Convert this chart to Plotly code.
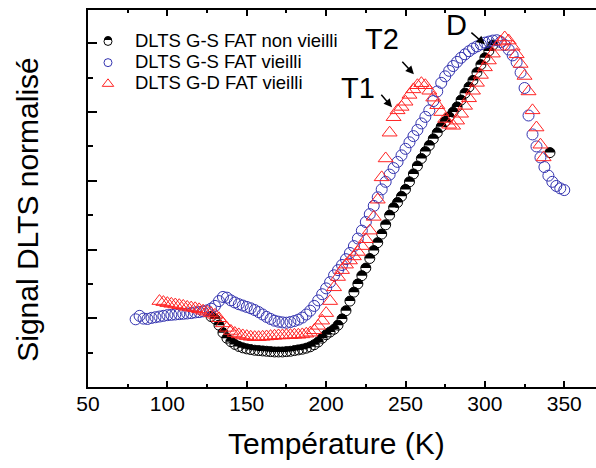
import math
import plotly.graph_objects as go

# ---- data ----
temp_ns = [127.5, 130, 132.5, 135, 137.5, 140, 142.5, 145, 147.5, 150, 152.5, 155, 157.5, 160, 162.5,
           165, 167.5, 170, 172.5, 175, 177.5, 180, 182.5, 185, 187.5, 190, 192.5, 195, 197.5,
           200, 202.5, 205, 207.5, 210, 212.5, 215, 217.5, 220, 222.5, 225, 227.5, 230, 232.5,
           235, 237.5, 240, 242.5, 245, 247.5, 250, 252.5, 255, 257.5, 260, 262.5, 265, 267.5,
           270, 272.5, 275, 277.5, 280, 282.5, 285, 287.5, 290, 292.5, 295, 297.5, 300, 302.5,
           305, 341]
sig_ns = [0.205, 0.198, 0.180, 0.158, 0.142, 0.132, 0.124, 0.118, 0.114, 0.111, 0.109, 0.107, 0.106, 0.105, 0.104,
          0.103, 0.102, 0.102, 0.102, 0.103, 0.104, 0.106, 0.108, 0.110, 0.113, 0.117, 0.123, 0.131, 0.142,
          0.152, 0.160, 0.168, 0.180, 0.198, 0.222, 0.250, 0.276, 0.300, 0.324, 0.346, 0.374, 0.397, 0.420,
          0.445, 0.472, 0.500, 0.522, 0.537, 0.555, 0.575, 0.597, 0.620, 0.643, 0.665, 0.685, 0.703, 0.722,
          0.740, 0.757, 0.772, 0.786, 0.800, 0.815, 0.835, 0.855, 0.873, 0.892, 0.915, 0.938, 0.958, 0.978,
          0.995, 0.682]

temp_gs = [80, 82.5, 85, 87.5, 90, 92.5, 95, 97.5, 100, 102.5, 105, 107.5, 110, 112.5, 115, 117.5,
           120, 122.5, 125, 127.5, 130, 132.5, 135, 137.5, 140, 142.5, 145, 147.5, 150, 152.5, 155,
           157.5, 160, 162.5, 165, 167.5, 170, 172.5, 175, 177.5, 180, 182.5, 185, 187.5, 190, 192.5,
           195, 197.5, 200, 202.5, 205, 207.5, 210, 212.5, 215, 217.5, 220, 222.5, 225, 227.5, 230,
           232.5, 235, 237.5, 240, 242.5, 245, 247.5, 250, 252.5, 255, 257.5, 260, 262.5, 265, 267.5,
           270, 272.5, 275, 277.5, 280, 282.5, 285, 287.5, 290, 292.5, 295, 297.5, 300, 302.5, 305,
           307.5, 310, 312.5, 315, 317.5, 320, 322.5, 325, 327.5, 330, 332.5, 335, 337.5, 340, 342.5,
           345, 347.5, 350]
sig_gs = [0.197, 0.207, 0.199, 0.198, 0.201, 0.203, 0.205, 0.207, 0.209, 0.210, 0.211, 0.212, 0.213, 0.214, 0.215, 0.217,
          0.218, 0.220, 0.223, 0.228, 0.236, 0.250, 0.262, 0.260, 0.252, 0.246, 0.241, 0.237, 0.233, 0.229, 0.224,
          0.218, 0.211, 0.204, 0.198, 0.193, 0.190, 0.188, 0.187, 0.189, 0.192, 0.196, 0.202, 0.211, 0.222, 0.236,
          0.252, 0.270, 0.287, 0.305, 0.325, 0.340, 0.355, 0.372, 0.390, 0.410, 0.432, 0.455, 0.480, 0.503, 0.527,
          0.552, 0.575, 0.597, 0.618, 0.637, 0.655, 0.674, 0.693, 0.712, 0.730, 0.748, 0.767, 0.786, 0.805, 0.832,
          0.860, 0.885, 0.904, 0.920, 0.934, 0.946, 0.958, 0.968, 0.977, 0.985, 0.991, 0.997, 1.002, 1.005, 1.008,
          1.009, 1.004, 0.995, 0.982, 0.965, 0.945, 0.915, 0.870, 0.790, 0.735, 0.700, 0.668, 0.640, 0.615, 0.597,
          0.585, 0.578, 0.573]

temp_gd = [95, 97.5, 100, 102.5, 105, 107.5, 110, 112.5, 115, 117.5, 120, 122.5, 125, 127.5, 130,
           132.5, 135, 137.5, 140, 142.5, 145, 147.5, 150, 152.5, 155, 157.5, 160, 162.5, 165, 167.5,
           170, 172.5, 175, 177.5, 180, 182.5, 185, 187.5, 190, 192.5, 195, 197.5, 200, 202.5, 205,
           207.5, 210, 212.5, 215, 217.5, 220, 222.5, 225, 227.5, 230, 232.5, 235, 237.5, 240, 242.5,
           245, 247.5, 250, 252.5, 255, 257.5, 260, 262.5, 265, 267.5, 270, 272.5, 275, 277.5, 280,
           282.5, 285, 287.5, 290, 292.5, 295, 297.5, 300, 302.5, 305, 307.5, 310, 312.5, 315, 317.5,
           320, 322.5, 325, 327.5, 330, 332.5, 335, 337]
sig_gd = [0.250, 0.247, 0.244, 0.242, 0.240, 0.238, 0.236, 0.233, 0.231, 0.229, 0.226, 0.222, 0.219, 0.215, 0.210,
          0.200, 0.185, 0.172, 0.163, 0.157, 0.153, 0.150, 0.148, 0.146, 0.145, 0.145, 0.146, 0.147, 0.148, 0.149,
          0.150, 0.150, 0.151, 0.151, 0.152, 0.152, 0.153, 0.155, 0.158, 0.165, 0.178, 0.193, 0.215, 0.250, 0.290,
          0.320, 0.340, 0.356, 0.368, 0.380, 0.393, 0.410, 0.430, 0.455, 0.495, 0.545, 0.610, 0.665, 0.740, 0.785,
          0.805, 0.815, 0.830, 0.850, 0.866, 0.878, 0.884, 0.878, 0.862, 0.842, 0.820, 0.800, 0.780, 0.763, 0.760,
          0.775, 0.795, 0.818, 0.840, 0.862, 0.885, 0.908, 0.930, 0.950, 0.970, 0.990, 1.005, 1.017, 1.008, 0.990,
          0.968, 0.940, 0.905, 0.860, 0.805, 0.755, 0.705, 0.668]

x_ticks = [50, 100, 150, 200, 250, 300, 350]
x_ticktext = ["50", "100", "150", "200", "250", "300", "350"]
y_major = [0.2, 0.4, 0.6, 0.8, 1.0]

names = ["DLTS G-S FAT non vieilli", "DLTS G-S FAT vieilli", "DLTS G-D FAT vieilli"]
peak_labels = ["T1", "T2", "D"]
peak_temp = [241.5, 255.3, 300.0]
peak_sig = [0.814, 0.910, 0.997]
label_temp = [220.1, 235.5, 282.4]
label_sig = [0.869, 1.012, 1.052]

FONT = "Liberation Sans, Arial, sans-serif"
BLUE = "#3434B0"
RED = "#FF2424"


def half_disk_path(r):
    pts = []
    for k in range(13):
        a = math.pi * k / 12.0
        pts.append((r * math.cos(a), r * math.sin(a)))
    return "M" + " L".join("%.2f,%.2f" % p for p in pts) + " Z"


fig = go.Figure()

# plotted series (legend entries are drawn by smaller legend-only traces)
fig.add_trace(go.Scatter(x=temp_ns, y=sig_ns, mode="markers", showlegend=False,
                         marker=dict(symbol="circle-open", size=10, color="black", line=dict(width=1))))
fig.add_trace(go.Scatter(x=temp_gs, y=sig_gs, mode="markers", showlegend=False,
                         marker=dict(symbol="circle-open", size=11, color=BLUE, line=dict(width=1))))
fig.add_trace(go.Scatter(x=temp_gd, y=sig_gd, mode="markers", showlegend=False,
                         marker=dict(symbol="triangle-up-open", size=13, color=RED, line=dict(width=1))))

# legend-only entries
fig.add_trace(go.Scatter(x=[None], y=[None], mode="markers",
                         name='<span style="font-size:18.5px">%s</span>' % names[0],
                         marker=dict(symbol="circle-open", size=8, color="black", line=dict(width=1))))
fig.add_trace(go.Scatter(x=[None], y=[None], mode="markers",
                         name='<span style="font-size:18.5px">%s</span>' % names[1],
                         marker=dict(symbol="circle-open", size=8, color=BLUE, line=dict(width=1))))
fig.add_trace(go.Scatter(x=[None], y=[None], mode="markers",
                         name='<span style="font-size:18.5px">%s</span>' % names[2],
                         marker=dict(symbol="triangle-up-open", size=10, color=RED, line=dict(width=1))))

# black upper halves of the half-filled circles
shapes = []
hp = half_disk_path(5)
for t, s in zip(temp_ns, sig_ns):
    shapes.append(dict(type="path", xref="x", yref="y", xsizemode="pixel", ysizemode="pixel",
                       xanchor=t, yanchor=s, path=hp, fillcolor="black",
                       line=dict(width=0), layer="below"))
# same half in the legend symbol
shapes.append(dict(type="path", xref="paper", yref="paper", xsizemode="pixel", ysizemode="pixel",
                   xanchor=0.0394, yanchor=0.9204, path=half_disk_path(4), fillcolor="black",
                   line=dict(width=0), layer="above"))

annotations = []
for lab, tx, ty in zip(peak_labels, label_temp, label_sig):
    annotations.append(dict(x=tx, y=ty, xref="x", yref="y", text=lab, showarrow=False,
                            font=dict(family=FONT, size=29, color="black"),
                            xanchor="center", yanchor="middle"))
arrow_off = [(-12, -14), (-13, -14), (-15, -13)]
for (axo, ayo), px, py in zip(arrow_off, peak_temp, peak_sig):
    annotations.append(dict(x=px, y=py, xref="x", yref="y", text="", showarrow=True,
                            ax=axo, ay=ayo, arrowhead=2, arrowsize=1.1, arrowwidth=1.5,
                            arrowcolor="black"))
annotations.append(dict(x=0.4887, y=-0.150, xref="paper", yref="paper", text="Température (K)",
                        showarrow=False, font=dict(family=FONT, size=30, color="black"),
                        xanchor="center", yanchor="middle"))
annotations.append(dict(x=-0.119, y=0.4715, xref="paper", yref="paper", text="Signal DLTS normalisé",
                        showarrow=False, textangle=-90, font=dict(family=FONT, size=30, color="black"),
                        xanchor="center", yanchor="middle"))

fig.update_layout(
    width=596, height=468,
    margin=dict(l=88, r=0, t=10, b=81),
    paper_bgcolor="white", plot_bgcolor="white",
    font=dict(family=FONT, color="black"),
    showlegend=True,
    legend=dict(x=-0.0138, y=0.958, xanchor="left", yanchor="top", bgcolor="rgba(0,0,0,0)",
                borderwidth=0, itemwidth=44, font=dict(family=FONT, size=14, color="black"),
                tracegroupgap=0),
    annotations=annotations,
    shapes=shapes,
    xaxis=dict(range=[50, 370], tickvals=x_ticks, ticktext=x_ticktext, ticks="inside", ticklen=6,
               tickwidth=1.5, tickcolor="black", showline=True, linecolor="black", linewidth=1.5,
               mirror="ticks", showgrid=False, zeroline=False, ticklabelstandoff=-3,
               tickfont=dict(family=FONT, size=21, color="black"),
               minor=dict(tick0=75, dtick=50, ticks="inside", ticklen=3, tickwidth=1.5,
                          tickcolor="black", showgrid=False)),
    yaxis=dict(range=[0, 1.097], tickvals=y_major, ticks="inside", ticklen=9, tickwidth=1.5,
               tickcolor="black", showticklabels=False, showline=True, linecolor="black",
               linewidth=1.5, mirror=False, showgrid=False, zeroline=False,
               minor=dict(tick0=0.1, dtick=0.2, ticks="inside", ticklen=5, tickwidth=1.5,
                          tickcolor="black", showgrid=False)),
)

fig.write_html("out.html", config={"displayModeBar": False},
               post_script="document.body.style.margin='0px';")
